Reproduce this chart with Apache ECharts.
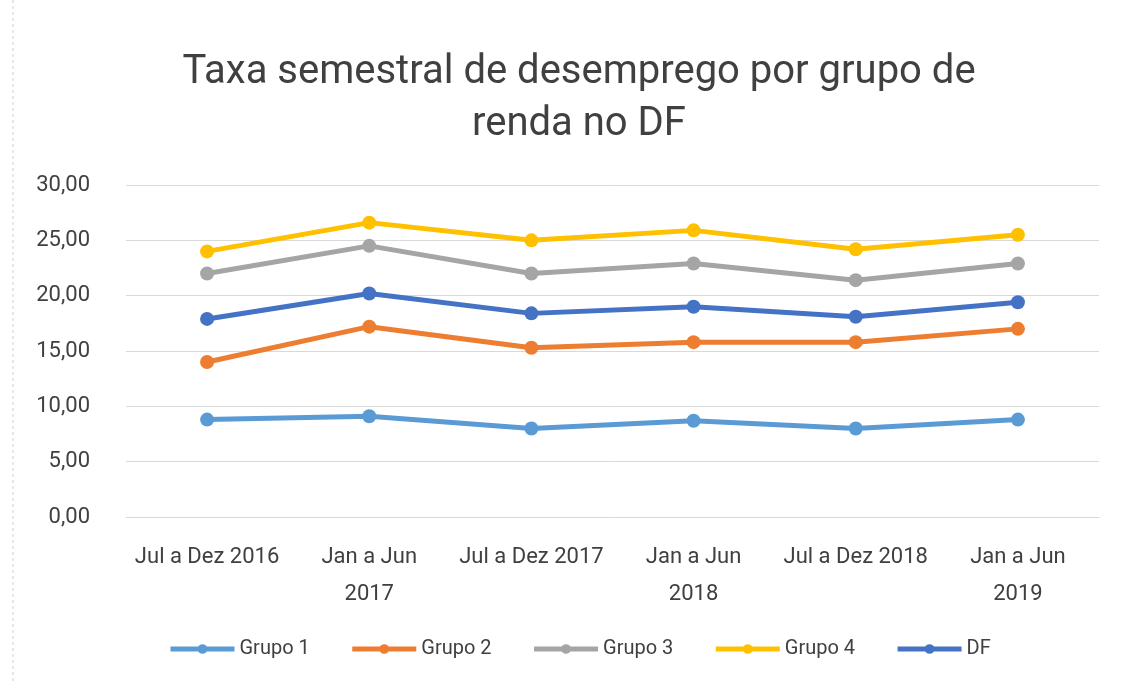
<!DOCTYPE html>
<html>
<head>
<meta charset="utf-8">
<script src="https://cdn.jsdelivr.net/npm/echarts@6/dist/echarts.min.js"></script>
<style>
  html, body { margin: 0; padding: 0; background: #fff; }
  #main { width: 1121px; height: 684px; }
</style>
</head>
<body>
<div id="main"></div>
<script>
// dados
var categorias = ['Jul a Dez 2016', 'Jan a Jun\n2017', 'Jul a Dez 2017', 'Jan a Jun\n2018', 'Jul a Dez 2018', 'Jan a Jun\n2019'];
var grupo1 = [8.8, 9.1, 8.0, 8.7, 8.0, 8.8];
var grupo2 = [14.0, 17.2, 15.3, 15.8, 15.8, 17.0];
var grupo3 = [22.0, 24.5, 22.0, 22.9, 21.4, 22.9];
var grupo4 = [24.0, 26.6, 25.0, 25.9, 24.2, 25.5];
var df = [17.9, 20.2, 18.4, 19.0, 18.1, 19.4];
var nomes = ['Grupo 1', 'Grupo 2', 'Grupo 3', 'Grupo 4', 'DF'];
var cores = ['#5B9BD5', '#ED7D31', '#A5A5A5', '#FFC000', '#4472C4'];

var fonte = '"Roboto", sans-serif';
var myChart = echarts.init(document.getElementById('main'));

function serie (nome, dados, cor) {
  return {
    name: nome,
    type: 'line',
    data: dados,
    symbol: 'circle',
    symbolSize: 14,
    lineStyle: { width: 5, color: cor },
    itemStyle: { color: cor },
    z: 2
  };
}

var option = {
  animation: false,
  color: cores,
  title: {
    text: 'Taxa semestral de desemprego por grupo de\nrenda no DF',
    left: 574,
    textAlign: 'center',
    top: 42,
    textStyle: {
      fontFamily: fonte,
      fontSize: 40,
      fontWeight: 'normal',
      color: '#404040',
      lineHeight: 52
    }
  },
  legend: {
    bottom: 20,
    left: 163,
    itemWidth: 64,
    itemHeight: 12,
    itemGap: 40,
    lineStyle: { width: 5 },
    textStyle: { fontFamily: fonte, fontSize: 20, color: '#404040' },
    data: nomes
  },
  grid: {
    left: 126,
    right: 22,
    top: 185,
    bottom: 167,
    containLabel: false,
    outerBoundsMode: 'none'
  },
  xAxis: {
    type: 'category',
    data: categorias,
    boundaryGap: true,
    axisLine: { lineStyle: { color: '#d9d9d9', width: 1 } },
    axisTick: { show: false },
    axisLabel: {
      interval: 0,
      margin: 22,
      fontFamily: fonte,
      fontSize: 22,
      lineHeight: 37,
      color: '#404040'
    }
  },
  yAxis: {
    type: 'value',
    min: 0,
    max: 30,
    interval: 5,
    axisLine: { show: false },
    axisTick: { show: false },
    splitLine: { lineStyle: { color: '#d9d9d9', width: 1 } },
    axisLabel: {
      margin: 36,
      fontFamily: fonte,
      fontSize: 22,
      color: '#404040',
      formatter: function (v) { return v.toFixed(2).replace('.', ','); }
    }
  },
  graphic: [{
    type: 'line',
    shape: { x1: 13, y1: 0, x2: 13, y2: 684 },
    style: { stroke: '#d0d0d0', lineWidth: 1, lineDash: [3, 3] }
  }],
  series: [
    serie(nomes[0], grupo1, cores[0]),
    serie(nomes[1], grupo2, cores[1]),
    serie(nomes[2], grupo3, cores[2]),
    serie(nomes[3], grupo4, cores[3]),
    serie(nomes[4], df, cores[4])
  ]
};

myChart.setOption(option);
</script>
</body>
</html>
